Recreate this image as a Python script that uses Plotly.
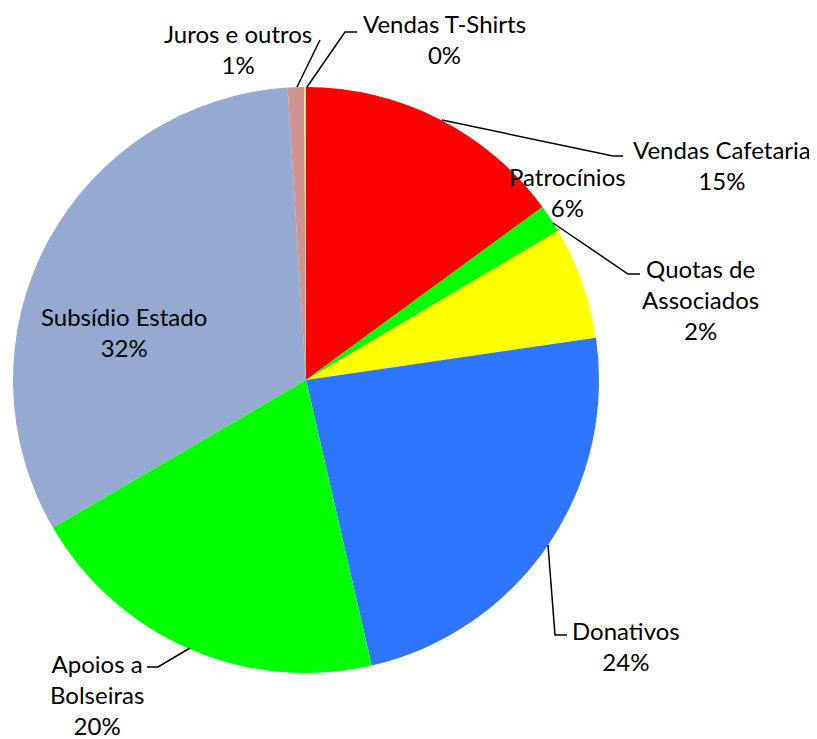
import plotly.graph_objects as go

W, H = 817, 739
OFF = 8  # page body margin offset compensation

labels = ["Vendas Cafetaria", "Quotas de Associados", "Patrocínios", "Donativos",
          "Apoios a Bolseiras", "Subsídio Estado", "Juros e outros", "Vendas T-Shirts"]
values = [14.95, 1.55, 6.2, 23.7, 20.2, 32.4, 0.9, 0.1]
colors = ["#FF0000", "#00FF00", "#FFFF00", "#2E75FF", "#00FF00", "#95A9D1", "#D09392", "#F2DCA0"]

# label display lines (line breaks as in the reference)
label_lines = ["Vendas Cafetaria", "Quotas de<br>Associados", "Patrocínios", "Donativos",
               "Apoios a<br>Bolseiras", "Subsídio Estado", "Juros e outros", "Vendas T-Shirts"]
# label centre positions in pixels (page coordinates)
label_pos = [(722, 165), (700, 299), (567, 192), (626, 646),
             (97, 694), (124, 332), (238, 49), (445, 39)]

# leader lines (pixel polylines, page coordinates)
leaders = [
    [(442, 120), (613, 156), (623, 156)],
    [(553, 223), (628, 274), (640, 274)],
    None,
    [(548, 545), (555, 635), (567, 635)],
    [(190, 648), (158, 667), (147, 667)],
    None,
    [(297, 87), (320, 40)],
    [(307, 87), (345, 32), (357, 32)],
]


def px(x):
    return (x - OFF) / W


def py(y):
    return 1 - (y - OFF) / H


cx, cy, r = 306, 380, 293

fig = go.Figure(go.Pie(
    labels=labels, values=values, sort=False, direction="clockwise", rotation=0,
    marker=dict(colors=colors, line=dict(width=0)),
    textinfo="none", hoverinfo="label+percent", showlegend=False,
    domain=dict(x=[px(cx - r), px(cx + r)], y=[py(cy + r), py(cy - r)]),
))

total = sum(values)
for lab, v, (x, y) in zip(label_lines, values, label_pos):
    pct = int(v / total * 100 + 0.5)
    fig.add_annotation(x=px(x), y=py(y), xref="paper", yref="paper",
                       text=f"{lab}<br>{pct}%", showarrow=False,
                       font=dict(family="Lato", size=24, color="#000000"),
                       align="center", xanchor="center", yanchor="middle")

for pts in leaders:
    if not pts:
        continue
    d = "M " + " L ".join(f"{px(x)},{py(y)}" for x, y in pts)
    fig.add_shape(type="path", path=d, xref="paper", yref="paper",
                  line=dict(color="#000000", width=1.5))

fig.update_layout(width=W, height=H, margin=dict(l=0, r=0, t=0, b=0),
                  paper_bgcolor="white", plot_bgcolor="white")

fig.write_html("out.html")
